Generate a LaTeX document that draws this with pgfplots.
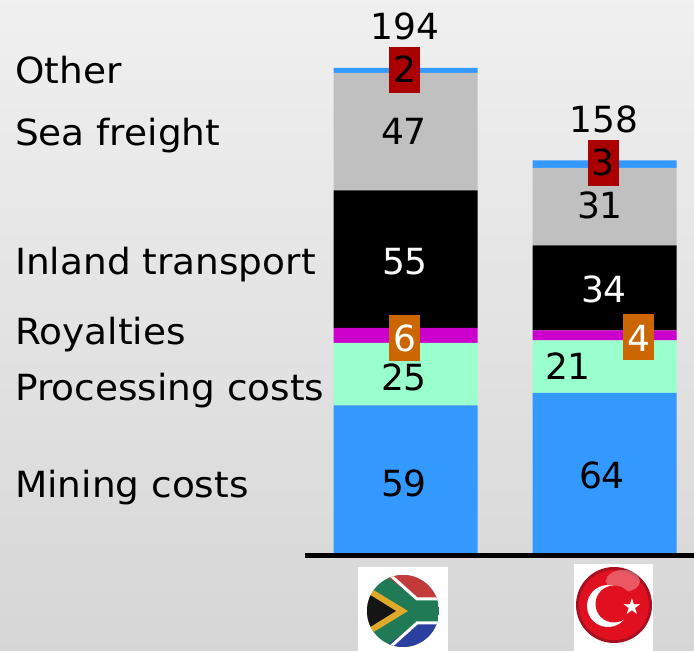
\documentclass[border=0pt]{standalone}
\usepackage{fontspec}
\setmainfont{DejaVu Sans}
\usepackage{pgfplots}
\pgfplotsset{compat=1.18}
\definecolor{barblue}{HTML}{3399FF}
\definecolor{mint}{HTML}{99FFCC}
\definecolor{magent}{HTML}{CC00CC}
\definecolor{lgrey}{HTML}{C0C0C0}
\definecolor{boxred}{HTML}{AA0000}
\definecolor{boxorange}{HTML}{CC6600}
\definecolor{zagreen}{HTML}{1F7A55}
\definecolor{zared}{HTML}{C23A3A}
\definecolor{zablue}{HTML}{2B3F9E}
\definecolor{zagold}{HTML}{E0A92A}
\definecolor{zablack}{HTML}{151515}
\definecolor{trred}{HTML}{E01020}
\definecolor{trdark}{HTML}{A81020}
\begin{document}
\begin{tikzpicture}[x=1pt,y=1pt]
\useasboundingbox (0,0) rectangle (694,651);
\shade[top color=black!6,bottom color=black!16] (0,0) rectangle (694,651);
\begin{axis}[
  at={(0,0)},anchor=south west,
  width=694pt,height=651pt,scale only axis,
  hide axis,
  xmin=0,xmax=694,ymin=-39.2,ymax=221.2,
  enlargelimits=false,
  ybar stacked,
  bar width=144,
]
\addplot[fill=barblue,draw=none] coordinates {(405.5,59) (604.5,64)};
\addplot[fill=mint,draw=none] coordinates {(405.5,25) (604.5,21)};
\addplot[fill=magent,draw=none] coordinates {(405.5,6) (604.5,4)};
\addplot[fill=black,draw=none] coordinates {(405.5,55) (604.5,34)};
\addplot[fill=lgrey,draw=none] coordinates {(405.5,47) (604.5,31)};
\addplot[fill=barblue,draw=none] coordinates {(405.5,2) (604.5,3)};
\end{axis}
\begin{scope}[shift={(0,651)},y=-1pt,x=1pt,every node/.style={font=\fontsize{36}{40}\selectfont,inner sep=0pt}]
\fill[black] (305,553.5) rectangle (694,558.5);
% category labels
\foreach \t/\py in {Other/72,Sea freight/134,Inland transport/263,Royalties/333,Processing costs/389,Mining costs/486}
  \node[anchor=base west] at (15,\py+12) {\scalebox{1.04}[1]{\t}};
% boxes
\fill[boxred] (389,47) rectangle (420,93);
\fill[boxred] (588,140) rectangle (619,186);
\fill[boxorange] (389,315) rectangle (420,361);
\fill[boxorange] (623,314) rectangle (654,360);
% values
\foreach \x/\py/\t in {405/27/194,404/132/47,404/378/25,404/484/59,604/120/158,600/206/31,568/367/21,602/476/64,404.5/70/2,603/163/3}
  \node[text=black,anchor=base] at (\x,\py+13) {\t};
\foreach \x/\py/\t in {405/262/55,604/290/34,404.5/339/6,638.5/339/4}
  \node[text=white,anchor=base] at (\x,\py+13) {\t};
% South Africa flag
\fill[white] (358,567) rectangle (448,651);
\begin{scope}
  \clip (403,611) circle (36);
  \fill[zagreen] (367,575) rectangle (439,647);
  \fill[zared] (385,575) -- (439,575) -- (439,600) -- (418,600) -- cycle;
  \fill[zablue] (385,647) -- (439,647) -- (439,622) -- (418,622) -- cycle;
  \draw[white,line width=3pt] (388,573) -- (417,599) -- (441,599);
  \draw[white,line width=3pt] (388,649) -- (417,623) -- (441,623);
  \fill[zagold] (367,586) -- (408,611) -- (367,636) -- cycle;
  \fill[zablack] (367,593) -- (396,611) -- (367,629) -- cycle;
\end{scope}
% Turkey flag
\fill[white] (574,564) rectangle (653,651);
\fill[trdark] (614,605) circle (38);
\fill[trred] (614,605) circle (35);
\fill[white,opacity=.3] (623,581) ellipse (17 and 11);
\fill[white] (608,606) circle (21);
\fill[trred] (614,604) circle (18.5);
\node[text=white,font=\fontsize{22}{22}\selectfont] at (632,607) {★};
\end{scope}
\end{tikzpicture}
\end{document}
